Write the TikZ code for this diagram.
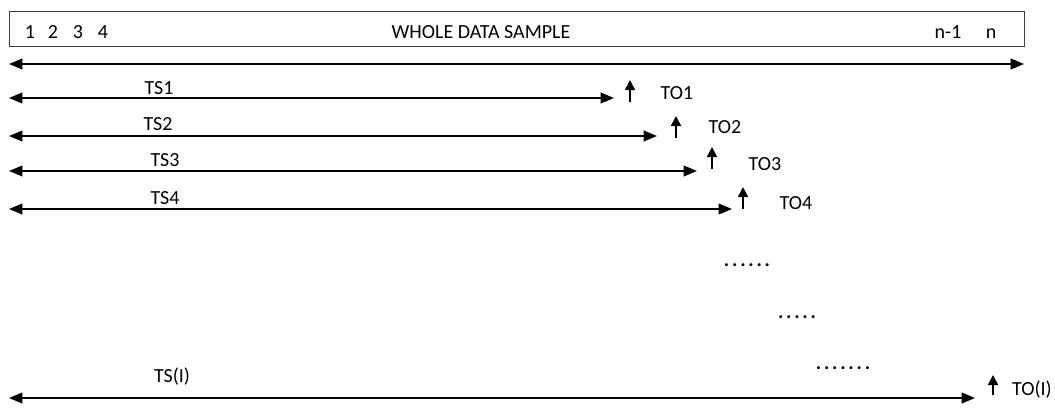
\documentclass[tikz,border=0pt]{standalone}
\usepackage{fontspec}
\setmainfont{Carlito}
\usetikzlibrary{arrows.meta}
\newcommand\spd{.\kern2.1pt}
\begin{document}
\begin{tikzpicture}[x=0.75pt,y=-0.75pt,
  lbl/.style={inner sep=0pt,font=\fontsize{15}{17}\selectfont},
  boxlbl/.style={lbl,anchor=base},
  span/.style={line width=1.3pt,{Triangle[length=10pt,width=8pt]}-{Triangle[length=10pt,width=8pt]}},
  fwd/.style={line width=1.3pt,{Triangle[length=10pt,width=8pt]}-{Triangle[length=10pt,width=8pt]}},
  upar/.style={line width=1.3pt,-{Triangle[length=7.5pt,width=7.5pt]}},
  dotsl/.style={inner sep=0pt,anchor=base,font=\fontsize{15}{17}\selectfont\bfseries}]
\useasboundingbox (0,0) rectangle (1055,407);
% whole data box
\node[draw=black!75,line width=0.8pt,minimum width=1015*0.75pt,minimum height=35*0.75pt,inner sep=0pt,anchor=north west] (box) at (9,11) {};
\node[boxlbl] (n1) at (30,38) {1};
\node[boxlbl] (n2) at (53,38) {2};
\node[boxlbl] (n3) at (78,38) {3};
\node[boxlbl] (n4) at (103,38) {4};
\node[boxlbl] (whole) at (481,38) {WHOLE DATA SAMPLE};
\node[boxlbl] (nm1) at (948,38) {n-1};
\node[boxlbl] (nn) at (991,38) {n};
% whole span
\coordinate (w0) at (9,64);
\coordinate (w1) at (1024,64);
\draw[span] (w0) -- (w1);
% TS1
\coordinate (a0) at (9,98);
\coordinate (a1) at (614,98);
\draw[fwd] (a0) -- (a1);
\node[lbl] (ts1) at (159,88) {TS1};
\coordinate (u1a) at (630,102);
\coordinate (u1b) at (630,80);
\draw[upar] (u1a) -- (u1b);
\node[lbl] (to1) at (677,93) {TO1};
% TS2
\coordinate (b0) at (9,136);
\coordinate (b1) at (657,136);
\draw[fwd] (b0) -- (b1);
\node[lbl] (ts2) at (158,124) {TS2};
\coordinate (u2a) at (676,138);
\coordinate (u2b) at (676,116);
\draw[upar] (u2a) -- (u2b);
\node[lbl] (to2) at (725,127) {TO2};
% TS3
\coordinate (c0) at (9,171);
\coordinate (c1) at (697,171);
\draw[fwd] (c0) -- (c1);
\node[lbl] (ts3) at (165,160) {TS3};
\coordinate (u3a) at (712,169);
\coordinate (u3b) at (712,147);
\draw[upar] (u3a) -- (u3b);
\node[lbl] (to3) at (765,164) {TO3};
% TS4
\coordinate (d0) at (9,209);
\coordinate (d1) at (732,209);
\draw[fwd] (d0) -- (d1);
\node[lbl] (ts4) at (165,198) {TS4};
\coordinate (u4a) at (743,209);
\coordinate (u4b) at (743,187);
\draw[upar] (u4a) -- (u4b);
\node[lbl] (to4) at (796,203) {TO4};
% dots
\node[dotsl] (dt1) at (747,266) {\spd\spd\spd\spd\spd.};
\node[dotsl] (dt2) at (797,318) {\spd\spd\spd\spd.};
\node[dotsl] (dt3) at (843,369) {\spd\spd\spd\spd\spd\spd.};
% TS(I)
\coordinate (e0) at (9,398);
\coordinate (e1) at (975,398);
\draw[fwd] (e0) -- (e1);
\node[lbl] (tsl) at (172,377) {TS(I)};
\coordinate (uea) at (993,395);
\coordinate (ueb) at (993,375);
\draw[upar] (uea) -- (ueb);
\node[lbl] (tol) at (1032,390) {TO(I)};
\end{tikzpicture}
\end{document}
